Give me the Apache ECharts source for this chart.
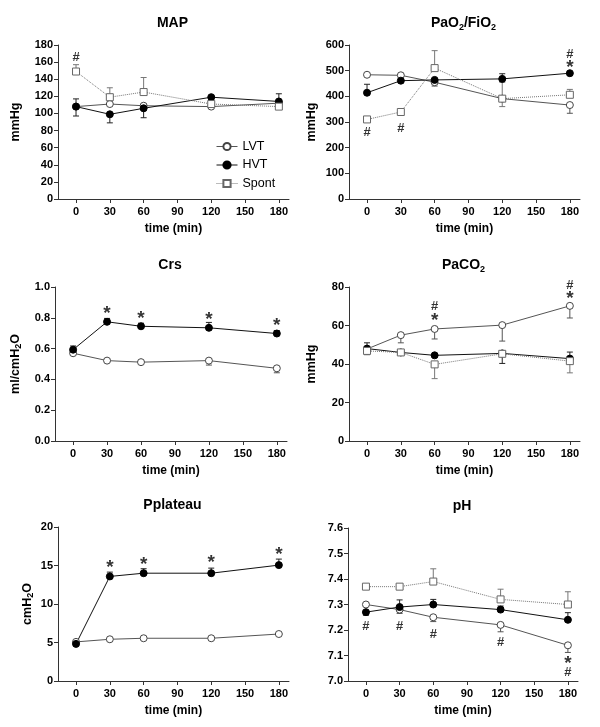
<!DOCTYPE html>
<html><head><meta charset="utf-8">
<script src="https://cdn.jsdelivr.net/npm/echarts@6/dist/echarts.min.js"></script>
<style>html,body{margin:0;padding:0;background:#fff}#c{width:600px;height:727px}</style>
</head><body><div id="c"></div>
<script>
// ---------- data ----------
const times = [0, 30, 60, 120, 180];
const xTicks = [0, 30, 60, 90, 120, 150, 180];
const seriesNames = ['LVT', 'HVT', 'Spont'];

// MAP (mmHg)
const mapLVT = [108, 111, 109, 108, 112];
const mapHVT = [108, 99, 106, 119, 114];
const mapSpont = [149, 119, 125, 111, 108];
const mapLVTErr = [];
const mapHVTErr = [[0, 97, 117], [30, 89, 99], [60, 95, 106], [180, 114, 123]];
const mapSpontErr = [[0, 149, 157], [30, 119, 130], [60, 125, 142]];
const mapMarks = [[0, 166, '#']];

// PaO2/FiO2 (mmHg)
const paoLVT = [484, 482, 455, 391, 366];
const paoHVT = [414, 461, 464, 468, 490];
const paoSpont = [310, 339, 510, 391, 406];
const paoLVTErr = [[60, 440, 455], [180, 334, 366]];
const paoHVTErr = [[0, 414, 447], [120, 468, 488]];
const paoSpontErr = [[60, 510, 578], [120, 360, 455], [180, 406, 427]];
const paoMarks = [[0, 258, '#'], [30, 275, '#'], [180, 526, '*'], [180, 565, '#']];

// Crs (ml/cmH2O)
const crsLVT = [0.570, 0.522, 0.512, 0.522, 0.472];
const crsHVT = [0.593, 0.774, 0.745, 0.735, 0.698];
const crsLVTErr = [[120, 0.493, 0.522], [180, 0.443, 0.472]];
const crsHVTErr = [[0, 0.593, 0.617], [30, 0.774, 0.796], [60, 0.745, 0.765], [120, 0.735, 0.770], [180, 0.698, 0.717]];
const crsMarks = [[30, 0.852, '*'], [60, 0.820, '*'], [120, 0.811, '*'], [180, 0.776, '*']];

// PaCO2 (mmHg)
const pacoLVT = [47.8, 55.0, 58.2, 60.2, 70.2];
const pacoHVT = [48.0, 46.0, 44.5, 45.5, 42.8];
const pacoSpont = [46.8, 46.0, 39.8, 45.3, 41.5];
const pacoLVTErr = [[30, 51.0, 55.0], [60, 53.0, 58.2], [120, 51.9, 60.2], [180, 63.9, 70.2]];
const pacoHVTErr = [[0, 48.0, 51.0], [120, 40.3, 45.5], [180, 42.8, 46.2]];
const pacoSpontErr = [[0, 44.8, 46.8], [60, 32.4, 39.8], [180, 35.4, 41.5]];
const pacoMarks = [[60, 64.3, '*'], [60, 69.8, '#'], [180, 75.8, '*'], [180, 81.0, '#']];

// Pplateau (cmH2O)
const pplLVT = [5.08, 5.42, 5.55, 5.55, 6.1];
const pplHVT = [4.82, 13.58, 14.0, 14.0, 15.05];
const pplLVTErr = [];
const pplHVTErr = [[30, 13.58, 14.14], [60, 14.0, 14.58], [120, 14.0, 14.66], [180, 15.05, 15.83]];
const pplMarks = [[30, 15.2, '*'], [60, 15.6, '*'], [120, 15.9, '*'], [180, 16.9, '*']];

// pH
const phLVT = [7.30, 7.28, 7.25, 7.22, 7.14];
const phHVT = [7.27, 7.29, 7.30, 7.28, 7.24];
const phSpont = [7.37, 7.37, 7.39, 7.32, 7.30];
const phLVTErr = [[30, 7.265, 7.28], [60, 7.233, 7.25], [120, 7.193, 7.22], [180, 7.112, 7.14]];
const phHVTErr = [[0, 7.258, 7.27], [30, 7.29, 7.318], [60, 7.30, 7.32], [120, 7.28, 7.294], [180, 7.24, 7.268]];
const phSpontErr = [[60, 7.39, 7.44], [120, 7.32, 7.36], [180, 7.30, 7.35]];
const phMarks = [[0, 7.213, '#'], [30, 7.213, '#'], [60, 7.184, '#'], [120, 7.150, '#'], [180, 7.082, '*'], [180, 7.033, '#']];

// ---------- layout / style ----------
const FONT = '"Liberation Sans", Arial, Helvetica, sans-serif';
const panels = [
  { title: '{a|MAP}', yName: '{n|mmHg}', min: 0, max: 180, interval: 20, dec: 0,
    data: [mapLVT, mapHVT, mapSpont], err: [mapLVTErr, mapHVTErr, mapSpontErr], marks: mapMarks,
    grid: { left: 58, top: 45, width: 231, height: 154 }, yGap: 35 },
  { title: '{a|PaO}{s|2}{a|/FiO}{s|2}', yName: '{n|mmHg}', min: 0, max: 600, interval: 100, dec: 0,
    data: [paoLVT, paoHVT, paoSpont], err: [paoLVTErr, paoHVTErr, paoSpontErr], marks: paoMarks,
    grid: { left: 349, top: 45, width: 231, height: 154 }, yGap: 30 },
  { title: '{a|Crs}', yName: '{n|ml/cmH}{s|2}{n|O}', min: 0, max: 1, interval: 0.2, dec: 1,
    data: [crsLVT, crsHVT, null], err: [crsLVTErr, crsHVTErr, []], marks: crsMarks,
    grid: { left: 55, top: 287, width: 232, height: 154 }, yGap: 32 },
  { title: '{a|PaCO}{s|2}', yName: '{n|mmHg}', min: 0, max: 80, interval: 20, dec: 0,
    data: [pacoLVT, pacoHVT, pacoSpont], err: [pacoLVTErr, pacoHVTErr, pacoSpontErr], marks: pacoMarks,
    grid: { left: 349, top: 287, width: 231, height: 154 }, yGap: 30 },
  { title: '{a|Pplateau}', yName: '{n|cmH}{s|2}{n|O}', min: 0, max: 20, interval: 5, dec: 0,
    data: [pplLVT, pplHVT, null], err: [pplLVTErr, pplHVTErr, []], marks: pplMarks,
    grid: { left: 58, top: 527, width: 231, height: 154 }, yGap: 23 },
  { title: '{a|pH}', yName: '', min: 7.0, max: 7.6, interval: 0.1, dec: 1,
    data: [phLVT, phHVT, phSpont], err: [phLVTErr, phHVTErr, phSpontErr], marks: phMarks,
    grid: { left: 348, top: 528, width: 230, height: 153 }, yGap: 30 }
];

const lineStyles = [
  { symbol: 'circle', item: { color: '#fff', borderColor: '#444', borderWidth: 1 }, line: { color: '#555', width: 1, type: 'solid' } },
  { symbol: 'circle', item: { color: '#000', borderColor: '#000', borderWidth: 1 }, line: { color: '#111', width: 1, type: 'solid' } },
  { symbol: 'rect', item: { color: '#fff', borderColor: '#666', borderWidth: 1 }, line: { color: '#777', width: 1, type: 'dotted' } }
];
const errColors = ['#555', '#222', '#777'];

const subRich = {
  a: { fontFamily: FONT, fontSize: 14, fontWeight: 'bold', color: '#000', lineHeight: 18 },
  s: { fontFamily: FONT, fontSize: 9, fontWeight: 'bold', color: '#000', lineHeight: 10, verticalAlign: 'bottom' },
  n: { fontFamily: FONT, fontSize: 12.5, fontWeight: 'bold', color: '#000', lineHeight: 15 }
};

function errSeries(data, idx, color) {
  return {
    type: 'custom', xAxisIndex: idx, yAxisIndex: idx, data: data, z: 1, silent: true, clip: false,
    encode: { x: 0, y: [1, 2] },
    renderItem: function (params, api) {
      const x = api.value(0);
      const lo = api.coord([x, api.value(1)]);
      const hi = api.coord([x, api.value(2)]);
      const w = 3;
      const st = { stroke: color, lineWidth: 1 };
      return { type: 'group', children: [
        { type: 'line', shape: { x1: lo[0], y1: lo[1], x2: hi[0], y2: hi[1] }, style: st },
        { type: 'line', shape: { x1: hi[0] - w, y1: hi[1], x2: hi[0] + w, y2: hi[1] }, style: st },
        { type: 'line', shape: { x1: lo[0] - w, y1: lo[1], x2: lo[0] + w, y2: lo[1] }, style: st }
      ] };
    }
  };
}

const option = {
  animation: false,
  backgroundColor: '#fff',
  title: [], grid: [], xAxis: [], yAxis: [], series: [],
  legend: {
    data: seriesNames, orient: 'vertical', left: 216, top: 140, padding: 0,
    itemWidth: 21, itemHeight: 9, itemGap: 5.5, selectedMode: false,
    lineStyle: { width: 1 },
    textStyle: { fontFamily: FONT, fontSize: 12.5, color: '#000', lineHeight: 12 }
  }
};

panels.forEach(function (p, i) {
  const g = p.grid;
  option.grid.push({ left: g.left, top: g.top, width: g.width, height: g.height, containLabel: false });
  option.title.push({
    text: p.title, left: g.left + g.width / 2 - 1, top: g.top - 31, textAlign: 'center', padding: 0,
    textStyle: { rich: subRich }
  });
  option.xAxis.push({
    type: 'value', gridIndex: i, min: -16, max: 189,
    name: 'time (min)', nameLocation: 'middle', nameGap: 24,
    nameTextStyle: { fontFamily: FONT, fontSize: 12, fontWeight: 'bold', color: '#000' },
    axisLine: { onZero: false, lineStyle: { color: '#333', width: 1 } },
    axisTick: { show: true, length: 4, customValues: xTicks, lineStyle: { color: '#333' } },
    axisLabel: { customValues: xTicks, margin: 7, fontFamily: FONT, fontSize: 11, fontWeight: 'bold', color: '#000' },
    splitLine: { show: false }
  });
  option.yAxis.push({
    type: 'value', gridIndex: i, min: p.min, max: p.max, interval: p.interval,
    name: p.yName, nameLocation: 'middle', nameGap: p.yGap,
    nameTextStyle: { rich: subRich },
    axisLine: { show: true, onZero: false, lineStyle: { color: '#333', width: 1 } },
    axisTick: { show: true, length: 4, lineStyle: { color: '#333' } },
    axisLabel: { margin: 5, fontFamily: FONT, fontSize: 11, fontWeight: 'bold', color: '#000',
      formatter: function (v) { return Number(v).toFixed(p.dec); } },
    splitLine: { show: false }
  });
  // error bars (drawn below markers)
  p.err.forEach(function (e, k) {
    if (p.data[k] && e.length) option.series.push(errSeries(e, i, errColors[k]));
  });
  // lines
  p.data.forEach(function (arr, k) {
    if (!arr) return;
    const s = lineStyles[k];
    option.series.push({
      name: seriesNames[k], type: 'line', xAxisIndex: i, yAxisIndex: i, z: 3,
      data: times.map(function (t, j) { return [t, arr[j]]; }),
      symbol: s.symbol, symbolSize: 7, showSymbol: true, clip: false,
      itemStyle: s.item, lineStyle: s.line, emphasis: { disabled: true }
    });
  });
  // significance marks
  option.series.push({
    type: 'scatter', xAxisIndex: i, yAxisIndex: i, z: 5, silent: true, clip: false,
    symbolSize: 1, itemStyle: { color: 'rgba(0,0,0,0)' },
    data: p.marks.map(function (m) {
      const star = m[2] === '*';
      return {
        value: [m[0], m[1]],
        label: {
          show: true, position: 'inside', formatter: m[2], offset: [0, star ? 4 : 0],
          fontFamily: FONT, fontWeight: 'bold', fontSize: star ? 19 : 13, color: '#000'
        }
      };
    })
  });
});

const chart = echarts.init(document.getElementById('c'));
chart.setOption(option);
</script>
</body></html>
